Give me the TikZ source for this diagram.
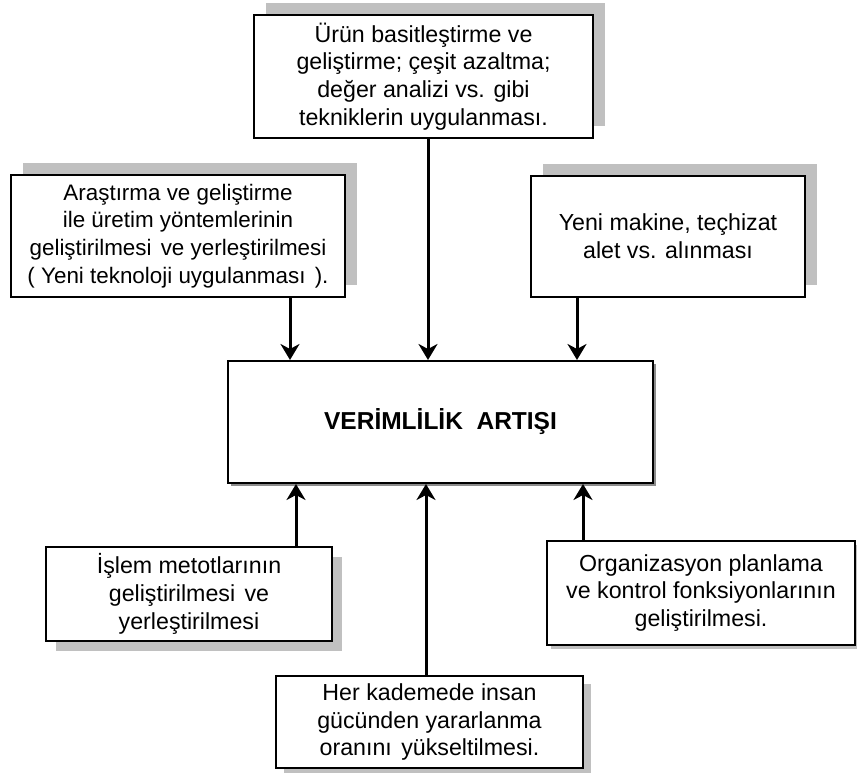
\documentclass[tikz,border=0pt]{standalone}
\usepackage{fontspec}
\setmainfont{Liberation Sans}
\usetikzlibrary{arrows.meta,shadows}

\definecolor{shadowgrey}{HTML}{C0C0C0}
\definecolor{darkshadow}{HTML}{8C8C8C}

\tikzset{
  box/.style={draw=black, line width=2pt, fill=white, align=center,
    inner sep=0pt, font=\fontsize{23.2}{27.7}\selectfont},
  upshadow/.style={general shadow={fill=shadowgrey, shadow xshift=12pt, shadow yshift=12pt}},
  downshadow/.style={general shadow={fill=shadowgrey, shadow xshift=#1pt, shadow yshift=-#1pt}},
  centershadow/.style={general shadow={fill=darkshadow, shadow xshift=3pt, shadow yshift=-3pt}},
  arr/.style={line width=3pt, -{Stealth[length=16pt, width=19pt, inset=5pt]}},
}

\begin{document}
\begin{tikzpicture}[x=1pt, y=-1pt]
  \useasboundingbox (0,0) rectangle (857,773);

  % boxes feeding the result from above
  \node[box, upshadow, minimum width=339pt, minimum height=123pt] (urun) at (423.5,76.5)
    {Ürün basitleştirme ve\\ geliştirme; çeşit azaltma;\\ değer analizi vs. gibi\\ tekniklerin uygulanması.};
  \node[box, upshadow, minimum width=334pt, minimum height=122pt,
        font=\fontsize{22.4}{27.7}\selectfont] (arge) at (178,236)
    {Araştırma ve geliştirme\\ ile üretim yöntemlerinin\\ geliştirilmesi\hspace{3pt} ve yerleştirilmesi\\ ( Yeni teknoloji uygulanması\hspace{3pt} ).};
  \node[box, upshadow, minimum width=274pt, minimum height=121pt] (makine) at (668,236.5)
    {Yeni makine, teçhizat\\ alet vs. alınması};

  % central result
  \node[box, centershadow, minimum width=425pt, minimum height=122pt,
        font=\bfseries\fontsize{24.5}{28}\selectfont] (verim) at (440.5,422)
    {VERİMLİLİK\ \ ARTIŞI};

  % boxes feeding the result from below
  \node[box, downshadow=10, minimum width=286pt, minimum height=94pt] (islem) at (189,594)
    {İşlem metotlarının\\ geliştirilmesi\hspace{3pt} ve\\ yerleştirilmesi};
  \node[box, downshadow=4, minimum width=308pt, minimum height=104pt] (organ) at (701,593)
    {Organizasyon planlama\\ ve kontrol fonksiyonlarının\\ geliştirilmesi.};
  \node[box, downshadow=8, minimum width=307pt, minimum height=92pt] (insan) at (429.5,722)
    {Her kademede insan\\ gücünden yararlanma\\ oranını\hspace{3pt} yükseltilmesi.};

  % connectors
  \draw[arr] (urun.south -| 428,0) -- (verim.north -| 428,0);
  \draw[arr] (arge.south -| 290,0) -- (verim.north -| 290,0);
  \draw[arr] (makine.south -| 577,0) -- (verim.north -| 577,0);
  \draw[arr] (islem.north -| 296,0) -- (verim.south -| 296,0);
  \draw[arr] (insan.north -| 426,0) -- (verim.south -| 426,0);
  \draw[arr] (organ.north -| 583,0) -- (verim.south -| 583,0);
\end{tikzpicture}
\end{document}
